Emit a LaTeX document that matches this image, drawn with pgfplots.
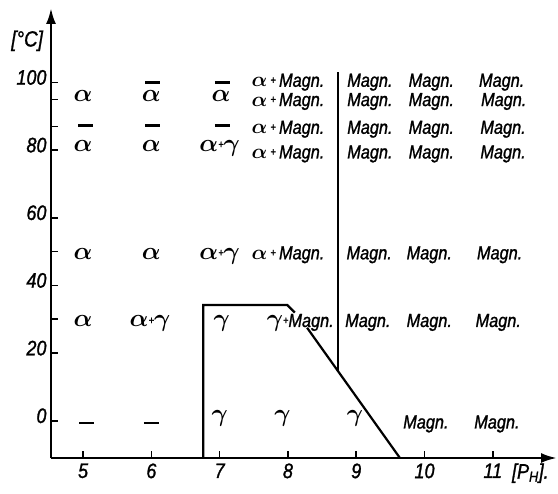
\documentclass[border=0pt]{standalone}
\usepackage{fontspec}
\usepackage{bm}
\usepackage{pgfplots}
\pgfplotsset{compat=1.18}
\usetikzlibrary{arrows.meta}
\setmainfont{Liberation Sans}
\newfontfamily\lab{Liberation Sans}[FakeStretch=0.86, FakeBold=1.2]

% phase symbols
\newcommand\gk[1]{{\fontsize{25}{25}\selectfont$\bm{#1}$}}
\newcommand\sm[1]{{\fontsize{20}{20}\selectfont$\bm{#1}$}}
\newcommand\plus{\raisebox{0.3ex}{\fontsize{11}{11}\selectfont+}}
\newcommand\nodash{\rule{15bp}{2.2bp}}
\newcommand\am{\sm{\alpha}\,\plus\,Magn.}
\newcommand\ag{\gk{\alpha}\plus\gk{\gamma}}
\newcommand\gm{\gk{\gamma}\plus Magn.}

\tikzset{
  lbl/.style={font=\lab\itshape\fontsize{19}{19}\selectfont, anchor=mid, inner sep=0pt},
  dsh/.style={anchor=center, inner sep=0pt},
}

\begin{document}
\begin{tikzpicture}
\begin{axis}[
  scale only axis, width=506bp, height=450bp,
  xmin=4.53, xmax=11.94, ymin=-11, ymax=122,
  axis lines=left,
  axis line style={line width=2.6bp, -{Latex[length=16bp,width=10bp]}},
  clip=false,
  xtick={5,...,11},
  ytick={0,20,...,100},
  extra y ticks={30,50,87,95},
  extra y tick labels={},
  tick align=inside,
  major tick length=7bp,
  tick style={line width=1.6bp, black},
  /pgf/number format/assume math mode=true,
  ticklabel style={font=\lab\itshape\fontsize{21}{21}\selectfont},
  yticklabel style={anchor=east, xshift=-1bp, yshift=5bp},
  xticklabel style={anchor=north, yshift=-2bp},
]
\coordinate (O) at (rel axis cs:0,0);

% phase boundaries
\addplot[line width=2.2bp, black] coordinates {(6.76,-11) (6.76,34.2) (7.99,34.2) (8.10,32.0)};
\addplot[line width=2.2bp, black] coordinates {(8.28,27.5) (9.64,-11)};
\addplot[line width=2.2bp, black] coordinates {(8.73,103) (8.73,14.3)};

% row near 100
\node[dsh] at (axis cs:6.02,100) {\nodash};
\node[dsh] at (axis cs:7.04,100) {\nodash};
\node[lbl] at (axis cs:8.0,99.5) {\am};
\node[lbl] at (axis cs:9.2,99.5) {Magn.};
\node[lbl] at (axis cs:10.1,99.5) {Magn.};
\node[lbl] at (axis cs:11.13,99.5) {Magn.};
% row near 95
\node[lbl] at (axis cs:5.0,95) {\gk{\alpha}};
\node[lbl] at (axis cs:6.0,95) {\gk{\alpha}};
\node[lbl] at (axis cs:7.02,95) {\gk{\alpha}};
\node[lbl] at (axis cs:8.0,93.8) {\am};
\node[lbl] at (axis cs:9.2,93.8) {Magn.};
\node[lbl] at (axis cs:10.1,93.8) {Magn.};
\node[lbl] at (axis cs:11.16,93.8) {Magn.};
% row near 87
\node[dsh] at (axis cs:5.04,87.3) {\nodash};
\node[dsh] at (axis cs:6.02,87.3) {\nodash};
\node[dsh] at (axis cs:7.04,87.3) {\nodash};
\node[lbl] at (axis cs:8.0,85.6) {\am};
\node[lbl] at (axis cs:9.2,85.6) {Magn.};
\node[lbl] at (axis cs:10.1,85.6) {Magn.};
\node[lbl] at (axis cs:11.15,85.6) {Magn.};
% row near 80
\node[lbl] at (axis cs:5.0,80.5) {\gk{\alpha}};
\node[lbl] at (axis cs:6.0,80.5) {\gk{\alpha}};
\node[lbl] at (axis cs:7.0,80.5) {\ag};
\node[lbl] at (axis cs:8.0,78.3) {\am};
\node[lbl] at (axis cs:9.2,78.3) {Magn.};
\node[lbl] at (axis cs:10.1,78.3) {Magn.};
\node[lbl] at (axis cs:11.15,78.3) {Magn.};
% row 50
\node[lbl] at (axis cs:5.0,48.5) {\gk{\alpha}};
\node[lbl] at (axis cs:6.0,48.5) {\gk{\alpha}};
\node[lbl] at (axis cs:7.0,48.5) {\ag};
\node[lbl] at (axis cs:8.0,48.5) {\am};
\node[lbl] at (axis cs:9.19,48.5) {Magn.};
\node[lbl] at (axis cs:10.07,48.5) {Magn.};
\node[lbl] at (axis cs:11.1,48.5) {Magn.};
% row 30
\node[lbl] at (axis cs:5.0,28.5) {\gk{\alpha}};
\node[lbl] at (axis cs:5.98,28.5) {\ag};
\node[lbl] at (axis cs:7.03,28.5) {\gk{\gamma}};
\node[lbl] at (axis cs:8.18,28.5) {\gm};
\node[lbl] at (axis cs:9.17,28.5) {Magn.};
\node[lbl] at (axis cs:10.07,28.5) {Magn.};
\node[lbl] at (axis cs:11.08,28.5) {Magn.};
% row 0
\node[dsh] at (axis cs:5.05,-0.6) {\nodash};
\node[dsh] at (axis cs:6.0,-0.6) {\nodash};
\node[lbl] at (axis cs:7.0,0.5) {\gk{\gamma}};
\node[lbl] at (axis cs:7.92,0.5) {\gk{\gamma}};
\node[lbl] at (axis cs:8.98,0.5) {\gk{\gamma}};
\node[lbl] at (axis cs:10.02,-1.5) {Magn.};
\node[lbl] at (axis cs:11.06,-1.5) {Magn.};

% axis titles
\node[font=\lab\itshape\fontsize{22}{22}\selectfont, inner sep=0pt] at (axis cs:4.18,112.3) {[°C]};
\node[font=\lab\itshape\fontsize{21}{21}\selectfont, inner sep=0pt] at (axis cs:11.55,-15.5) {[P\textsubscript{H}].};
\end{axis}
\pgfresetboundingbox
\path ([shift={(-51bp,-36bp)}]O) rectangle ([shift={(507bp,458bp)}]O);
\end{tikzpicture}
\end{document}
